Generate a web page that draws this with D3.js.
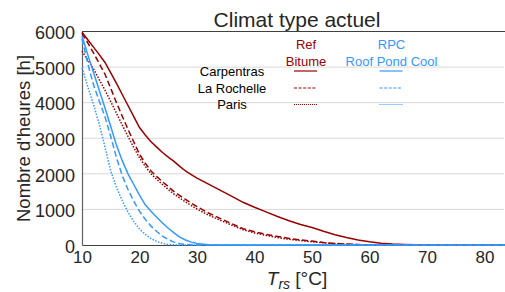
<!DOCTYPE html>
<html>
<head>
<meta charset="utf-8">
<script src="https://cdn.jsdelivr.net/npm/d3@7"></script>
<style>
  html, body { margin: 0; padding: 0; background: #fff; }
  svg { display: block; font-family: "Liberation Sans", Arial, sans-serif; }
</style>
</head>
<body>
<svg id="chart" width="505" height="292"></svg>
<script>
// ---------- data ----------
const temps = [10,11,12,13,14,15,16,17,18,19,20,21,22,23,24,25,26,27,28,29,30,32,34,36,38,40,42,44,46,48,50,52,54,56,58,60,62,64,66,68,70,75,80,84];

const refCarpentras = [5980,5770,5560,5350,5130,4840,4540,4230,3920,3610,3300,3090,2900,2750,2600,2470,2350,2210,2080,1980,1880,1710,1540,1375,1200,1060,930,800,680,575,490,385,290,210,140,90,50,28,14,5,0,0,0,0];
const refLaRochelle = [5950,5680,5400,5100,4800,4400,4000,3620,3250,2900,2550,2300,2080,1920,1780,1640,1500,1390,1280,1180,1080,900,750,600,460,370,300,240,185,145,110,70,45,25,12,5,0,0,0,0,0,0,0,0];
const refParis = [5450,5200,4950,4650,4350,4030,3700,3370,3050,2740,2450,2210,2000,1840,1700,1560,1430,1320,1210,1110,1010,840,700,560,430,340,270,210,160,125,90,60,38,20,10,3,0,0,0,0,0,0,0,0];
const rpcCarpentras = [5880,5350,4850,4350,3850,3330,2800,2370,2000,1700,1400,1130,950,780,620,470,340,220,140,80,40,8,0,0,0,0,0,0,0,0,0,0,0,0,0,0,0,0,0,0,0,0,0,0];
const rpcLaRochelle = [5800,5100,4500,4050,3600,3050,2450,1950,1560,1230,950,720,530,380,250,150,80,35,15,5,0,0,0,0,0,0,0,0,0,0,0,0,0,0,0,0,0,0,0,0,0,0,0,0];
const rpcParis = [4980,4450,3950,3400,2750,2080,1620,1250,920,660,450,300,180,100,45,15,5,0,0,0,0,0,0,0,0,0,0,0,0,0,0,0,0,0,0,0,0,0,0,0,0,0,0,0];

const xTicks = [10,20,30,40,50,60,70,80];
const yTicks = [0,1000,2000,3000,4000,5000,6000];
const cities = ["Carpentras","La Rochelle","Paris"];
const groupTitles = [["Ref","Bitume"],["RPC","Roof Pond Cool"]];

// ---------- layout ----------
const svg = d3.select("#chart");
const pLeft = 82, pRight = 504, pTop = 31.5, pBottom = 245;
const RED = "#990000", BLUE = "#3399ff", TXT = "#262626";

const x = d3.scaleLinear().domain([10, 10 + (pRight - pLeft) / 5.75]).range([pLeft, pRight]);
const y = d3.scaleLinear().domain([0, 6000]).range([pBottom, pTop]);

// grid
svg.append("g").selectAll("line").data(yTicks.filter(d => d > 0 && d < 6000)).join("line")
  .attr("x1", pLeft).attr("x2", pRight)
  .attr("y1", d => y(d)).attr("y2", d => y(d))
  .attr("stroke", "#d9d9d9").attr("stroke-width", 1);

// top frame line
svg.append("line").attr("x1", pLeft).attr("x2", 505).attr("y1", y(6000)).attr("y2", y(6000))
  .attr("stroke", "#404040").attr("stroke-width", 1);

// axes
const xAxis = d3.axisBottom(x).tickValues(xTicks).tickSize(0).tickPadding(4).tickFormat(d3.format("d"));
const gx = svg.append("g").attr("transform", `translate(0,${pBottom})`).call(xAxis);
gx.select(".domain").attr("stroke", "#404040").attr("stroke-width", 1.2);
gx.selectAll("text").attr("font-size", 17).attr("fill", TXT).attr("font-family", "Liberation Sans, Arial, sans-serif").attr("dy", "0.85em");

const yAxis = d3.axisLeft(y).tickValues(yTicks).tickSize(0).tickPadding(7).tickFormat(d3.format("d"));
const gy = svg.append("g").attr("transform", `translate(${pLeft},0)`).call(yAxis);
gy.select(".domain").attr("stroke", "#606060").attr("stroke-width", 1.2);
gy.selectAll("text").attr("font-size", 18).attr("fill", TXT).attr("font-family", "Liberation Sans, Arial, sans-serif").attr("dy", "0.4em");

// series
const series = [
  {v: refCarpentras, c: RED, dash: null},
  {v: refLaRochelle, c: RED, dash: "6,3"},
  {v: refParis, c: RED, dash: "1.5,1.5"},
  {v: rpcCarpentras, c: BLUE, dash: null},
  {v: rpcLaRochelle, c: BLUE, dash: "6,3"},
  {v: rpcParis, c: BLUE, dash: "1.5,1.5"}
];
const line = d3.line().x(d => x(d[0])).y(d => y(d[1]));
svg.append("g").selectAll("path").data(series).join("path")
  .attr("d", s => line(temps.map((t, i) => [t, s.v[i]])))
  .attr("fill", "none")
  .attr("stroke", s => s.c)
  .attr("stroke-width", 1.5)
  .attr("stroke-dasharray", s => s.dash);

// title
svg.append("text").attr("x", 297).attr("y", 27).attr("text-anchor", "middle")
  .attr("font-size", 21).attr("fill", TXT).text("Climat type actuel");

// axis labels
svg.append("text").attr("transform", "translate(30,138.5) rotate(-90)").attr("text-anchor", "middle")
  .attr("font-size", 18.5).attr("fill", TXT).text("Nombre d'heures [h]");

const xl = svg.append("text").attr("x", 297).attr("y", 285).attr("text-anchor", "middle")
  .attr("font-size", 19).attr("fill", TXT);
xl.append("tspan").attr("font-style", "italic").text("T");
xl.append("tspan").attr("font-style", "italic").attr("font-size", 14).attr("dy", 4).text("rs");
xl.append("tspan").attr("dy", -4).text(" [°C]");

// legend
const legCols = [306, 391.5];
const legColors = [RED, BLUE];
groupTitles.forEach((g, j) => {
  g.forEach((t, k) => {
    svg.append("text").attr("x", legCols[j]).attr("y", 49 + k * 17).attr("text-anchor", "middle")
      .attr("font-size", 13).attr("fill", legColors[j]).text(t);
  });
});
const rowY = [71, 88, 104.5];
const legDash = [null, "3,1.6", "1,1"];
cities.forEach((c, i) => {
  svg.append("text").attr("x", 232).attr("y", rowY[i] + 4.5).attr("text-anchor", "middle")
    .attr("font-size", 13).attr("fill", "#000").text(c);
  legCols.forEach((cx, j) => {
    svg.append("line").attr("x1", cx - 12).attr("x2", cx + 11)
      .attr("y1", rowY[i]).attr("y2", rowY[i])
      .attr("stroke", legColors[j]).attr("stroke-width", 1.2)
      .attr("stroke-dasharray", legDash[i]);
  });
});
</script>
</body>
</html>
